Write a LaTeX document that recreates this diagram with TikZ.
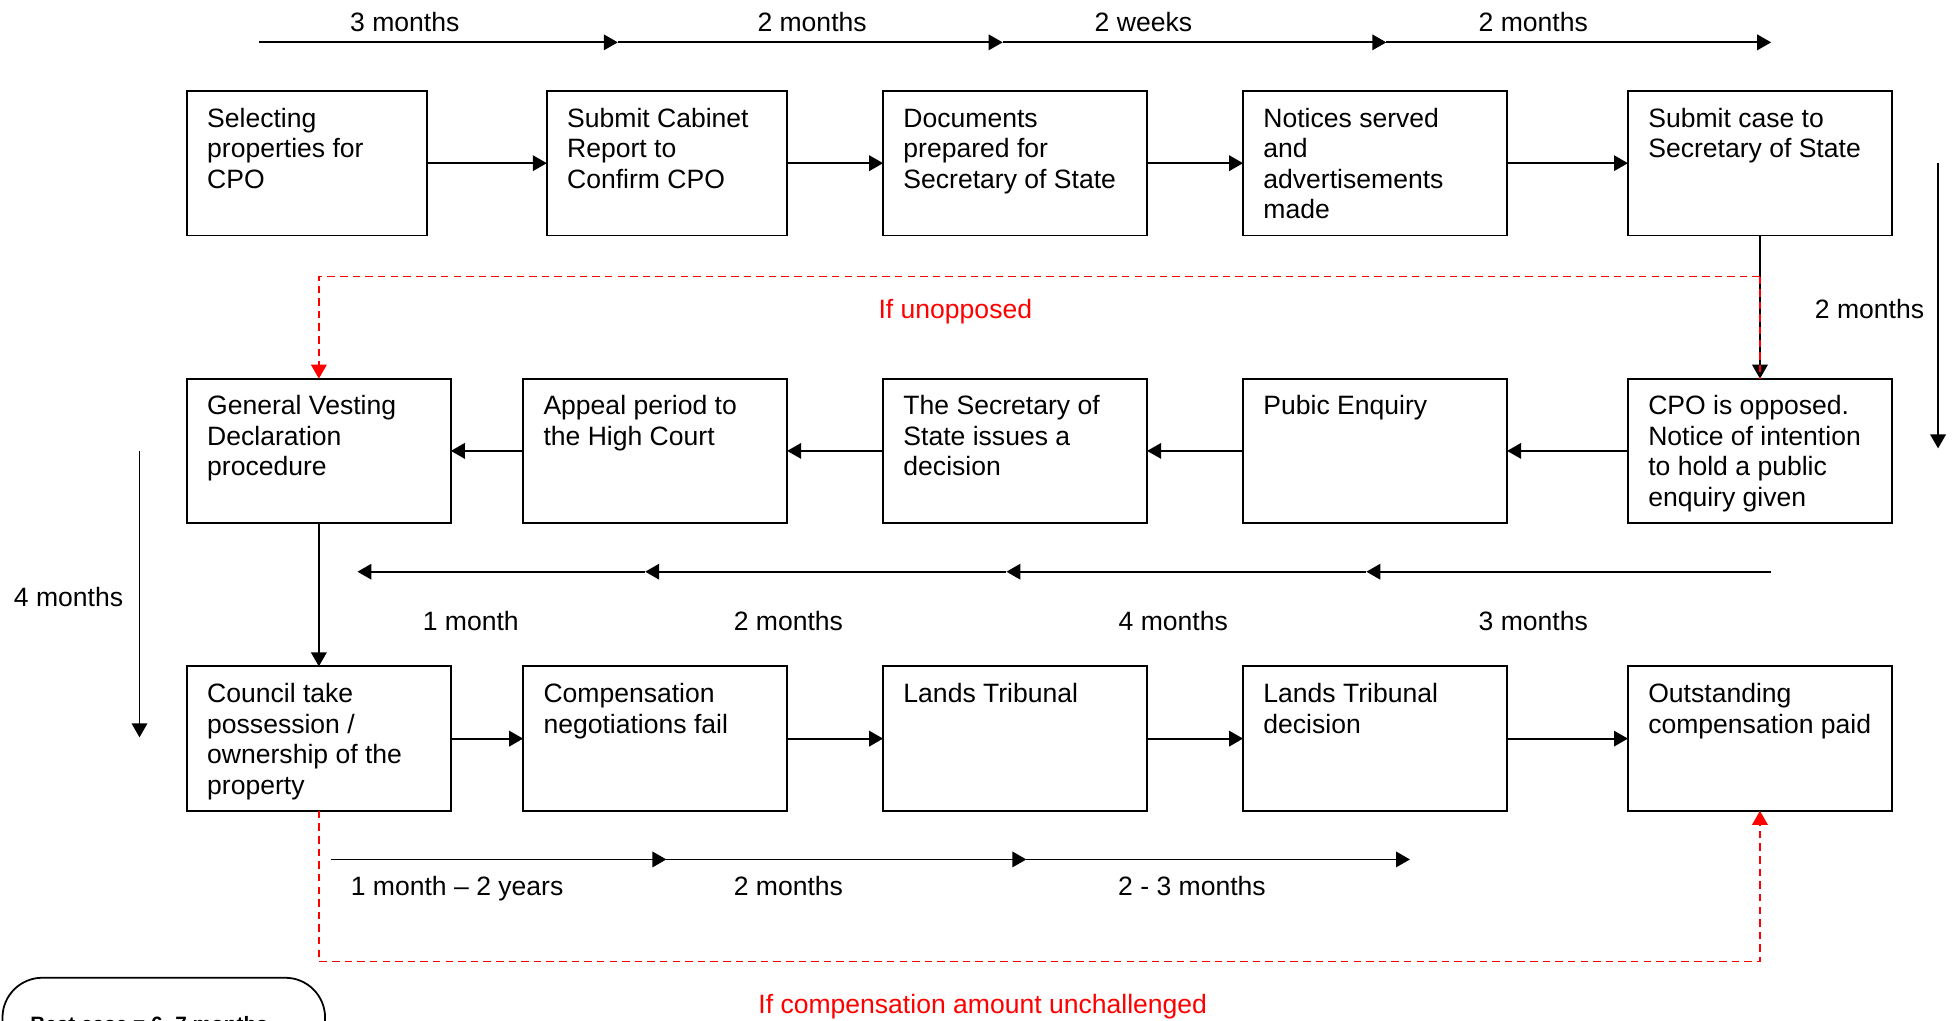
\documentclass[tikz,border=0pt]{standalone}
\usepackage{fontspec}
\setmainfont{Liberation Sans}
\usetikzlibrary{arrows.meta}
\begin{document}
\begin{tikzpicture}[x=0.563pt, y=-0.563pt,
  box/.style={draw, line width=0.8pt, minimum height=116*0.563pt, inner sep=0pt, outer sep=0pt, anchor=north west},
  txt/.style={anchor=north west, inner sep=0pt, align=left, font=\fontsize{12}{13.8}\selectfont},
  lbl/.style={anchor=base, inner sep=0pt, font=\fontsize{12}{13.8}\selectfont},
  arr/.style={line width=0.8pt, -{Triangle[length=6.3pt,width=7pt]}},
  reddash/.style={red, line width=0.8pt, dash pattern=on 3.4pt off 2.3pt},
  redarr/.style={reddash, -{Triangle[length=6.3pt,width=7pt,sep=0pt]}},
  redlbl/.style={lbl, text=red}]
\useasboundingbox (0,0) rectangle (1568,819);

% ---- row 1
\node[box, minimum width=193*0.563pt] (b1) at (150,73) {};
\node[box, minimum width=193*0.563pt] (b2) at (439,73) {};
\node[box, minimum width=212*0.563pt] (b3) at (709,73) {};
\node[box, minimum width=212*0.563pt] (b4) at (998,73) {};
\node[box, minimum width=212*0.563pt] (b5) at (1307,73) {};
\node[txt] (t1) at ([shift={(16,11.5)}]b1.north west) {\strut Selecting\\properties for\\CPO};
\node[txt] (t2) at ([shift={(16,11.5)}]b2.north west) {\strut Submit Cabinet\\Report to\\Confirm CPO};
\node[txt] (t3) at ([shift={(16,11.5)}]b3.north west) {\strut Documents\\prepared for\\Secretary of State};
\node[txt] (t4) at ([shift={(16,11.5)}]b4.north west) {\strut Notices served\\and\\advertisements\\made};
\node[txt] (t5) at ([shift={(16,11.5)}]b5.north west) {\strut Submit case to\\Secretary of State};

% ---- row 2
\node[box, minimum width=212*0.563pt] (gvd) at (150,304) {};
\node[box, minimum width=212*0.563pt] (app) at (420,304) {};
\node[box, minimum width=212*0.563pt] (sos) at (709,304) {};
\node[box, minimum width=212*0.563pt] (pub) at (998,304) {};
\node[box, minimum width=212*0.563pt] (cpo) at (1307,304) {};
\node[txt] (t6) at ([shift={(16,11.5)}]gvd.north west) {\strut General Vesting\\Declaration\\procedure};
\node[txt] (t7) at ([shift={(16,11.5)}]app.north west) {\strut Appeal period to\\the High Court};
\node[txt] (t8) at ([shift={(16,11.5)}]sos.north west) {\strut The Secretary of\\State issues a\\decision};
\node[txt] (t9) at ([shift={(16,11.5)}]pub.north west) {\strut Pubic Enquiry};
\node[txt] (t10) at ([shift={(16,11.5)}]cpo.north west) {\strut CPO is opposed.\\Notice of intention\\to hold a public\\enquiry given};

% ---- row 3
\node[box, minimum width=212*0.563pt] (cou) at (150,535) {};
\node[box, minimum width=212*0.563pt] (com) at (420,535) {};
\node[box, minimum width=212*0.563pt] (lt) at (709,535) {};
\node[box, minimum width=212*0.563pt] (ltd) at (998,535) {};
\node[box, minimum width=212*0.563pt] (out) at (1307,535) {};
\node[txt] (t11) at ([shift={(16,11.5)}]cou.north west) {\strut Council take\\possession /\\ownership of the\\property};
\node[txt] (t12) at ([shift={(16,11.5)}]com.north west) {\strut Compensation\\negotiations fail};
\node[txt] (t13) at ([shift={(16,11.5)}]lt.north west) {\strut Lands Tribunal};
\node[txt] (t14) at ([shift={(16,11.5)}]ltd.north west) {\strut Lands Tribunal\\decision};
\node[txt] (t15) at ([shift={(16,11.5)}]out.north west) {\strut Outstanding\\compensation paid};

% ---- flow arrows
\draw[arr] (b1) -- (b2);
\draw[arr] (b2) -- (b3);
\draw[arr] (b3) -- (b4);
\draw[arr] (b4) -- (b5);
\draw[arr] (b5) -- (cpo);
\draw[arr] (cpo) -- (pub);
\draw[arr] (pub) -- (sos);
\draw[arr] (sos) -- (app);
\draw[arr] (app) -- (gvd);
\draw[arr] (gvd) -- (cou);
\draw[arr] (cou) -- (com);
\draw[arr] (com) -- (lt);
\draw[arr] (lt) -- (ltd);
\draw[arr] (ltd) -- (out);

% ---- top timeline
\coordinate (ta0) at (208,34);
\coordinate (ta1) at (496,34);
\coordinate (ta2) at (805,34);
\coordinate (ta3) at (1113,34);
\coordinate (ta4) at (1422,34);
\draw[arr] (ta0) -- (ta1);
\draw[arr] (ta1) -- (ta2);
\draw[arr] (ta2) -- (ta3);
\draw[arr] (ta3) -- (ta4);
\node[lbl] (la1) at (325,25) {3 months};
\node[lbl] (la2) at (652,25) {2 months};
\node[lbl] (la3) at (918,25) {2 weeks};
\node[lbl] (la4) at (1231,25) {2 months};

% ---- middle timeline
\coordinate (tb0) at (1422,459);
\coordinate (tb1) at (1097,459);
\coordinate (tb2) at (808,459);
\coordinate (tb3) at (518,459);
\coordinate (tb4) at (287,459);
\draw[arr] (tb0) -- (tb1);
\draw[arr] (tb1) -- (tb2);
\draw[arr] (tb2) -- (tb3);
\draw[arr] (tb3) -- (tb4);
\node[lbl] (lb1) at (378,506) {1 month};
\node[lbl] (lb2) at (633,506) {2 months};
\node[lbl] (lb3) at (942,506) {4 months};
\node[lbl] (lb4) at (1231,506) {3 months};

% ---- bottom timeline
\coordinate (tc0) at (266,690);
\coordinate (tc1) at (535,690);
\coordinate (tc2) at (824,690);
\coordinate (tc3) at (1132,690);
\draw[arr] (tc0) -- (tc1);
\draw[arr] (tc1) -- (tc2);
\draw[arr] (tc2) -- (tc3);
\node[lbl] (lc1) at (367,719) {1 month -- 2 years};
\node[lbl] (lc2) at (633,719) {2 months};
\node[lbl] (lc3) at (957,719) {2 - 3 months};

% ---- side arrows
\coordinate (sr0) at (1556,131);
\coordinate (sr1) at (1556,360);
\draw[arr] (sr0) -- (sr1);
\node[lbl] (lsr) at (1501,256) {2 months};
\coordinate (sl0) at (112,362);
\coordinate (sl1) at (112,592);
\draw[arr] (sl0) -- (sl1);
\node[lbl] (lsl) at (55,487) {4 months};

% ---- red dashed routes
\coordinate (r1) at (1413,222);
\draw[reddash] (r1) -- (cpo.north);
\draw[redarr] (r1) -- (r1 -| gvd.north) -- (gvd.north);
\node[redlbl] (lr1) at (767,256) {If unopposed};
\coordinate (r2) at (257,772);
\draw[redarr] (cou.south) -- (cou.south |- r2) -- (out.south |- r2) -- (out.south);
\node[redlbl] (lr2) at (789,814) {If compensation amount unchallenged};

% ---- best case box (cut off at page edge, as in the original)
\begin{scope}
\clip (0,0) rectangle (1568,819);
\node[draw, line width=0.8pt, rounded corners=18pt, minimum width=259*0.563pt, minimum height=120*0.563pt, inner sep=0pt, outer sep=0pt, anchor=north west] (best) at (2,785) {};
\node[anchor=base west, inner sep=0pt, font=\fontsize{9.4}{11}\selectfont\bfseries] (bt) at (24,828) {Best case = 6 -7 months};
\end{scope}
\end{tikzpicture}
\end{document}
